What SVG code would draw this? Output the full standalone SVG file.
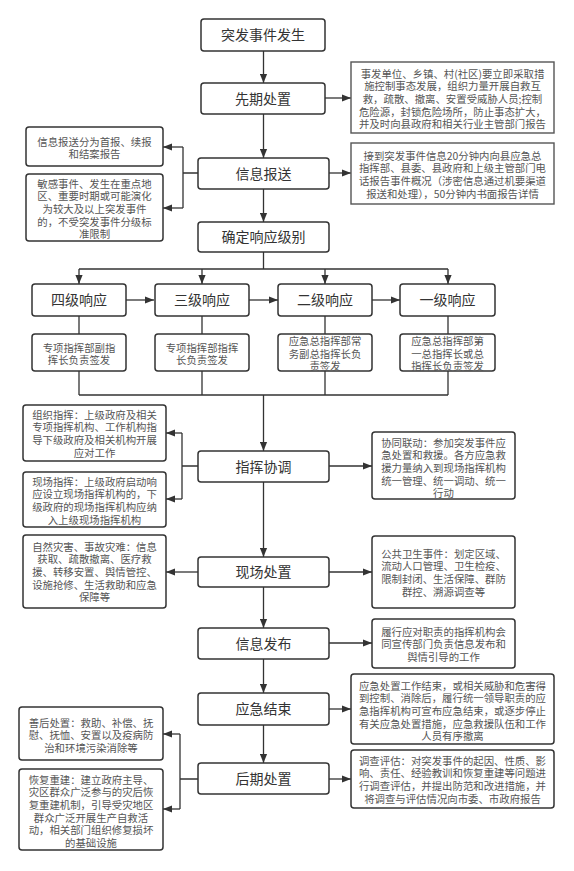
<svg xmlns="http://www.w3.org/2000/svg" width="574" height="871" viewBox="0 0 574 871">
<defs>
<marker id="ah" viewBox="0 0 10 8" refX="10" refY="4" markerWidth="9" markerHeight="8" markerUnits="userSpaceOnUse" orient="auto">
<path d="M0,0 L10,4 L0,8 z" fill="#333"/>
</marker>
<style>
.box{fill:#fff;stroke:#333;stroke-width:1.5}
.sq{fill:#fff;stroke:#555;stroke-width:1.4}
.main{font-family:"Noto Sans CJK SC","Noto Sans",sans-serif;font-size:14px;fill:#333;text-anchor:middle}
.sm{font-family:"Noto Sans CJK SC","Noto Sans",sans-serif;font-size:10.4px;fill:#555;text-anchor:middle}
.ln{fill:none;stroke:#333;stroke-width:1.3}
.ar{fill:none;stroke:#333;stroke-width:1.3;marker-end:url(#ah)}
</style>
</defs>
<rect width="574" height="871" fill="#fff"/>

<g id="connectors">
<path class="ar" d="M263.5,51 V83"/>
<path class="ar" d="M263.5,114 V158"/>
<path class="ar" d="M263.5,189 V222"/>
<path class="ar" d="M325,98 H351"/>
<path class="ar" d="M329,173 H351"/>
<path class="ln" d="M198,173 H183 M183,147 V208"/>
<path class="ar" d="M183,147 H163"/>
<path class="ar" d="M183,208 H163"/>
<path class="ln" d="M263.5,252 V269 M79,269 H448"/>
<path class="ar" d="M79,269 V284"/>
<path class="ar" d="M202,269 V284"/>
<path class="ar" d="M325,269 V284"/>
<path class="ar" d="M448,269 V284"/>
<path class="ar" d="M126,300 H154"/>
<path class="ar" d="M249,300 H278"/>
<path class="ar" d="M372,300 H400"/>
<path class="ln" d="M79,316 V334 M202,316 V334 M325,316 V334 M448,316 V334"/>
<path class="ln" d="M79,371 V395 M202,371 V395 M325,371 V395 M448,371 V395 M79,395 H448"/>
<path class="ar" d="M263.5,395 V451"/>
<path class="ln" d="M198,466 H182 M182,433 V499"/>
<path class="ar" d="M182,433 H166"/>
<path class="ar" d="M182,499 H166"/>
<path class="ar" d="M329,466 H372"/>
<path class="ar" d="M263.5,482 V557"/>
<path class="ar" d="M198,572 H166"/>
<path class="ar" d="M329,572 H372"/>
<path class="ar" d="M263.5,587 V628"/>
<path class="ar" d="M329,643 H372"/>
<path class="ar" d="M263.5,659 V693"/>
<path class="ar" d="M329,709 H351"/>
<path class="ar" d="M263.5,725 V763"/>
<path class="ln" d="M198,779 H180 M180,734 V809"/>
<path class="ar" d="M180,734 H163"/>
<path class="ar" d="M180,809 H163"/>
<path class="ar" d="M329,779 H351"/>
</g>

<g id="n-start"><rect class="box" x="201" y="19" width="124" height="32" rx="3"/><text class="main" x="263" y="40">突发事件发生</text></g>
<g id="n-xianqi"><rect class="box" x="201" y="83" width="124" height="31" rx="3"/><text class="main" x="263" y="103.5">先期处置</text></g>
<g id="n-xianqi-r"><rect class="sq" x="351" y="62" width="203" height="71"/>
<text class="sm" x="452.5"><tspan x="452.5" y="77.7">事发单位、乡镇、村(社区)要立即采取措</tspan><tspan x="452.5" y="90.3">施控制事态发展，组织力量开展自救互</tspan><tspan x="452.5" y="102.9">救，疏散、撤离、安置受威胁人员;控制</tspan><tspan x="452.5" y="115.5">危险源，封锁危险场所，防止事态扩大，</tspan><tspan x="452.5" y="128.1">并及时向县政府和相关行业主管部门报告</tspan></text></g>

<g id="n-baosong"><rect class="box" x="198" y="158" width="131" height="31" rx="3"/><text class="main" x="263.5" y="178.5">信息报送</text></g>
<g id="n-baosong-r"><rect class="sq" x="351" y="143" width="203" height="61"/>
<text class="sm"><tspan x="452.5" y="159.7">接到突发事件信息20分钟内向县应急总</tspan><tspan x="452.5" y="172.3">指挥部、县委、县政府和上级主管部门电</tspan><tspan x="452.5" y="184.9">话报告事件概况（涉密信息通过机要渠道</tspan><tspan x="452.5" y="197.5">报送和处理），50分钟内书面报告详情</tspan></text></g>
<g id="n-baosong-l1"><rect class="box" x="26" y="127" width="137" height="39" rx="3"/>
<text class="sm"><tspan x="94.5" y="145.7">信息报送分为首报、续报</tspan><tspan x="94.5" y="158.3">和结案报告</tspan></text></g>
<g id="n-baosong-l2"><rect class="box" x="26" y="174" width="137" height="67" rx="3"/>
<text class="sm"><tspan x="94.5" y="187.7">敏感事件、发生在重点地</tspan><tspan x="94.5" y="200.3">区、重要时期或可能演化</tspan><tspan x="94.5" y="212.9">为较大及以上突发事件</tspan><tspan x="94.5" y="225.5">的，不受突发事件分级标</tspan><tspan x="94.5" y="238.1">准限制</tspan></text></g>

<g id="n-level"><rect class="box" x="198" y="222" width="131" height="30" rx="3"/><text class="main" x="263.5" y="242">确定响应级别</text></g>

<g id="n-l4"><rect class="box" x="32" y="284" width="94" height="32" rx="3"/><text class="main" x="79" y="305">四级响应</text></g>
<g id="n-l3"><rect class="box" x="155" y="284" width="94" height="32" rx="3"/><text class="main" x="202" y="305">三级响应</text></g>
<g id="n-l2"><rect class="box" x="278" y="284" width="94" height="32" rx="3"/><text class="main" x="325" y="305">二级响应</text></g>
<g id="n-l1"><rect class="box" x="400" y="284" width="95" height="32" rx="3"/><text class="main" x="447.5" y="305">一级响应</text></g>

<g id="n-l4s"><rect class="box" x="32" y="334" width="94" height="37" rx="3"/>
<text class="sm"><tspan x="79" y="351.7">专项指挥部副指</tspan><tspan x="79" y="364.3">挥长负责签发</tspan></text></g>
<g id="n-l3s"><rect class="box" x="155" y="334" width="94" height="37" rx="3"/>
<text class="sm"><tspan x="202" y="351.7">专项指挥部指挥</tspan><tspan x="202" y="364.3">长负责签发</tspan></text></g>
<g id="n-l2s"><rect class="box" x="278" y="334" width="94" height="37" rx="3"/>
<text class="sm"><tspan x="325" y="344.9">应急总指挥部常</tspan><tspan x="325" y="357.5">务副总指挥长负</tspan><tspan x="325" y="370.1">责签发</tspan></text></g>
<g id="n-l1s"><rect class="box" x="400" y="334" width="95" height="37" rx="3"/>
<text class="sm"><tspan x="447.5" y="344.9">应急总指挥部第</tspan><tspan x="447.5" y="357.5">一总指挥长或总</tspan><tspan x="447.5" y="370.1">指挥长负责签发</tspan></text></g>

<g id="n-zhihui"><rect class="box" x="198" y="451" width="131" height="31" rx="3"/><text class="main" x="263.5" y="471.5">指挥协调</text></g>
<g id="n-zhihui-l1"><rect class="box" x="23" y="405" width="143" height="56" rx="3"/>
<text class="sm"><tspan x="94.5" y="418.7">组织指挥：上级政府及相关</tspan><tspan x="94.5" y="431.3">专项指挥机构、工作机构指</tspan><tspan x="94.5" y="443.9">导下级政府及相关机构开展</tspan><tspan x="94.5" y="456.5">应对工作</tspan></text></g>
<g id="n-zhihui-l2"><rect class="box" x="23" y="472" width="143" height="55" rx="3"/>
<text class="sm"><tspan x="94.5" y="485.7">现场指挥：上级政府启动响</tspan><tspan x="94.5" y="498.3">应设立现场指挥机构的，下</tspan><tspan x="94.5" y="510.9">级政府的现场指挥机构应纳</tspan><tspan x="94.5" y="523.5">入上级现场指挥机构</tspan></text></g>
<g id="n-zhihui-r"><rect class="box" x="372" y="432" width="143" height="67" rx="3"/>
<text class="sm"><tspan x="443.5" y="446.7">协同联动：参加突发事件应</tspan><tspan x="443.5" y="459.3">急处置和救援。各方应急救</tspan><tspan x="443.5" y="471.9">援力量纳入到现场指挥机构</tspan><tspan x="443.5" y="484.5">统一管理、统一调动、统一</tspan><tspan x="443.5" y="497.1">行动</tspan></text></g>

<g id="n-xianchang"><rect class="box" x="198" y="557" width="131" height="30" rx="3"/><text class="main" x="263.5" y="577">现场处置</text></g>
<g id="n-xianchang-l"><rect class="box" x="23" y="535" width="143" height="73" rx="3"/>
<text class="sm"><tspan x="94.5" y="550.7">自然灾害、事故灾难：信息</tspan><tspan x="94.5" y="563.3">获取、疏散撤离、医疗救</tspan><tspan x="94.5" y="575.9">援、转移安置、舆情管控、</tspan><tspan x="94.5" y="588.5">设施抢修、生活救助和应急</tspan><tspan x="94.5" y="601.1">保障等</tspan></text></g>
<g id="n-xianchang-r"><rect class="box" x="372" y="536" width="143" height="72" rx="3"/>
<text class="sm"><tspan x="443.5" y="557.7">公共卫生事件：划定区域、</tspan><tspan x="443.5" y="570.3">流动人口管理、卫生检疫、</tspan><tspan x="443.5" y="582.9">限制封闭、生活保障、群防</tspan><tspan x="443.5" y="595.5">群控、溯源调查等</tspan></text></g>

<g id="n-fabu"><rect class="box" x="198" y="628" width="131" height="31" rx="3"/><text class="main" x="263.5" y="648.5">信息发布</text></g>
<g id="n-fabu-r"><rect class="box" x="372" y="619" width="143" height="49" rx="3"/>
<text class="sm"><tspan x="443.5" y="635.7">履行应对职责的指挥机构会</tspan><tspan x="443.5" y="648.3">同宣传部门负责信息发布和</tspan><tspan x="443.5" y="660.9">舆情引导的工作</tspan></text></g>

<g id="n-jieshu"><rect class="box" x="198" y="693" width="131" height="32" rx="3"/><text class="main" x="263.5" y="714">应急结束</text></g>
<g id="n-jieshu-r"><rect class="box" x="351" y="674" width="203" height="70" rx="3"/>
<text class="sm"><tspan x="452.5" y="689.7">应急处置工作结束，或相关威胁和危害得</tspan><tspan x="452.5" y="702.3">到控制、消除后，履行统一领导职责的应</tspan><tspan x="452.5" y="714.9">急指挥机构可宣布应急结束，或逐步停止</tspan><tspan x="452.5" y="727.5">有关应急处置措施，应急救援队伍和工作</tspan><tspan x="452.5" y="740.1">人员有序撤离</tspan></text></g>

<g id="n-houqi"><rect class="box" x="198" y="763" width="131" height="31" rx="3"/><text class="main" x="263.5" y="783.5">后期处置</text></g>
<g id="n-houqi-r"><rect class="box" x="351" y="750" width="203" height="58" rx="3"/>
<text class="sm"><tspan x="452.5" y="764.7">调查评估：对突发事件的起因、性质、影</tspan><tspan x="452.5" y="777.3">响、责任、经验教训和恢复重建等问题进</tspan><tspan x="452.5" y="789.9">行调查评估，并提出防范和改进措施，并</tspan><tspan x="452.5" y="802.5">将调查与评估情况向市委、市政府报告</tspan></text></g>
<g id="n-houqi-l1"><rect class="box" x="19" y="707" width="144" height="53" rx="3"/>
<text class="sm"><tspan x="91" y="726.7">善后处置：救助、补偿、抚</tspan><tspan x="91" y="739.3">慰、抚恤、安置以及疫病防</tspan><tspan x="91" y="751.9">治和环境污染消除等</tspan></text></g>
<g id="n-houqi-l2"><rect class="box" x="19" y="769" width="144" height="81" rx="3"/>
<text class="sm"><tspan x="91" y="783.7">恢复重建：建立政府主导、</tspan><tspan x="91" y="796.3">灾区群众广泛参与的灾后恢</tspan><tspan x="91" y="808.9">复重建机制，引导受灾地区</tspan><tspan x="91" y="821.5">群众广泛开展生产自救活</tspan><tspan x="91" y="834.1">动，相关部门组织修复损坏</tspan><tspan x="91" y="846.7">的基础设施</tspan></text></g>
</svg>
